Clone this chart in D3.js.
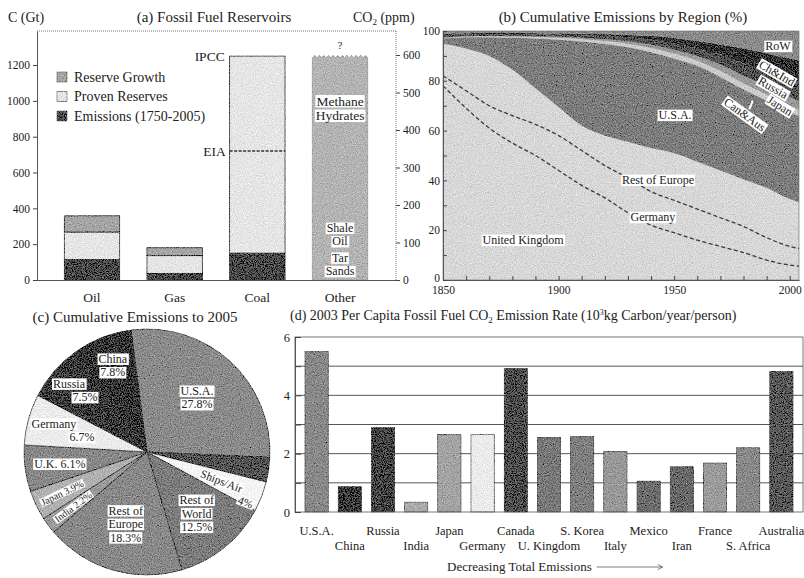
<!DOCTYPE html>
<html><head><meta charset="utf-8">
<script src="https://cdn.jsdelivr.net/npm/d3@7"></script>
<style>
body{margin:0;background:#fff}
svg{display:block}
svg text{font-family:"Liberation Serif","Tinos","Times New Roman","DejaVu Serif",serif !important;fill:#222}
</style></head><body>
<svg id="c" width="804" height="578" font-family="Liberation Serif, DejaVu Serif, serif"></svg>
<script>
// ---------------- DATA ----------------
// (a) Fossil fuel reservoirs, GtC
const fuels = ["Oil", "Gas", "Coal", "Other"];
const emissionsGt = [115, 37, 150, 0];
const provenGt = [153, 99, 1100, 0];
const reserveGrowthGt = [90, 44, 0, 0];
const unconventionalGt = [0, 0, 0, 1240];
const eiaCoalGt = 720;
const gtTicks = [0, 200, 400, 600, 800, 1000, 1200];
const ppmTicks = [0, 100, 200, 300, 400, 500, 600];

// (b) Cumulative emissions by region (% share)
const years = [1850,1860,1870,1880,1890,1900,1910,1920,1930,1940,1950,1960,1970,1980,1990,2000,2005];
const regions = ["United Kingdom","Germany","Rest of Europe","U.S.A.","Can&Aus","Japan","Russia","Ch&Ind","RoW"];
const ukShare      = [78,69,61,55,50,44,38,33,27,22,19,16,13.5,11,8,6,5.5];
const germanyShare = [4,7,9,11,12.5,14,14,13,14,13.5,13,12.5,11.5,10.5,9,7.5,7];
const restEurShare = [13,17,20,18.5,14.5,11.5,10,12,14.5,17.5,19,19,19,19,20,19,18.5];
const usaShare     = [2,4.5,7.5,12.8,20,27,33.8,36.8,38,38.5,38,38.5,37.5,36,35,35,34.5];
const canAusShare  = [0.3,0.3,0.4,0.5,0.6,0.8,1,1.2,1.5,1.8,2,2.2,2.5,2.5,2.5,2.5,2.5];
const japanShare   = [0.1,0.1,0.1,0.2,0.3,0.4,0.5,0.7,0.9,1.2,1.5,1.8,2.5,3,3.5,3.5,3.5];
const russiaShare  = [0.8,0.7,0.7,0.7,0.7,0.8,1,1.3,1.6,2,2.5,3,4,5,5.5,7,8];
const chIndShare   = [0.6,0.5,0.5,0.5,0.5,0.5,0.6,0.7,0.9,1.5,2.2,3,4,6,7.5,8.5,8.5];
const rowShare     = [1.2,0.9,0.8,0.8,0.9,1,1.1,1.3,1.6,2,2.8,4,5.5,7,9,11,12];
const pctTicks = [0,20,40,60,80,100];
const yearTicks = [1850,1900,1950,2000];

// (c) Cumulative emissions to 2005 (%)
const pieNames  = ["U.S.A.","Canada","Ships/Air","Rest of World","Rest of Europe","India","Japan","U.K.","Germany","Russia","China"];
const pieShares = [27.8, 3.2, 4, 12.5, 18.3, 2.2, 3.9, 6.1, 6.7, 7.5, 7.8];

// (d) 2003 per capita emissions (10^3 kg C / year / person)
const countries = ["U.S.A.","China","Russia","India","Japan","Germany","Canada","U. Kingdom","S. Korea","Italy","Mexico","Iran","France","S. Africa","Australia"];
const perCapita = [5.50, 0.87, 2.90, 0.34, 2.66, 2.66, 4.92, 2.56, 2.59, 2.08, 1.06, 1.55, 1.68, 2.20, 4.82];
const perCapitaTicks = [0,1,2,3,4,5,6];

// ---------------- STYLE ----------------
const SERIF = '"Liberation Serif","Tinos","Times New Roman","DejaVu Serif",serif';
const svg = d3.select("#c");
const defs = svg.append("defs");
const f = defs.append("filter").attr("id","grain").attr("filterUnits","userSpaceOnUse")
  .attr("x",-600).attr("y",-600).attr("width",2000).attr("height",1800);
f.append("feTurbulence").attr("type","fractalNoise").attr("baseFrequency",0.9).attr("numOctaves",2).attr("seed",4).attr("result","noise");
f.append("feColorMatrix").attr("in","noise").attr("type","matrix")
  .attr("values","0.33 0.33 0.33 0 0  0.33 0.33 0.33 0 0  0.33 0.33 0.33 0 0  0 0 0 0 1").attr("result","g");
f.append("feComposite").attr("in","SourceGraphic").attr("in2","g").attr("operator","arithmetic")
  .attr("k1",0).attr("k2",1).attr("k3",0.9).attr("k4",-0.45).attr("result","mix");
f.append("feComposite").attr("in","mix").attr("in2","SourceGraphic").attr("operator","in");

function boxText(parent, x, y, lines, o = {}) {
  const size = o.size || 11, lh = o.lh || 13.5, rot = o.rot || 0, dxs = o.dxs || [], dys = o.dys || [];
  const g = parent.append("g").attr("transform", `translate(${x},${y}) rotate(${rot})`);
  const n = lines.length;
  lines.forEach((ln, i) => {
    const t = g.append("text").attr("x", dxs[i] || 0).attr("y", (i - (n - 1) / 2) * lh + (dys[i] || 0))
      .attr("dy", "0.35em").attr("text-anchor", o.anchor || "middle")
      .style("font-size", size + "px").text(ln);
    const bb = t.node().getBBox();
    if (o.box !== false) {
      g.insert("rect", "text").attr("x", bb.x - 1).attr("y", bb.y + 1.5).attr("width", bb.width + 2)
        .attr("height", bb.height - 2.5).attr("fill", "#fff");
    }
  });
  return g;
}
function styleAxis(a, size) {
  a.attr("font-family", null);
  a.select(".domain").attr("stroke", "#555");
  a.selectAll(".tick line").attr("stroke", "#444");
  a.selectAll("text").style("font-family", SERIF).style("font-size", size + "px").attr("fill", "#222");
}

// ---------------- (a) ----------------
const xA = d3.scaleBand().domain(fuels).range([37, 395]).paddingInner(0.33).paddingOuter(0.33);
const yA = d3.scaleLinear().domain([0, 1390]).range([280, 31]);
const yPpm = d3.scaleLinear().domain([0, 664]).range([280, 31]);
const gA = svg.append("g");

const stackA = d3.stack().keys(["e","p","r"])(fuels.map((k, i) => ({k, e: emissionsGt[i], p: provenGt[i], r: reserveGrowthGt[i]})));
const colA = {e: "#4c4c4c", p: "#e6e6e6", r: "#a6a6a6"};
const barsA = gA.append("g").attr("filter", "url(#grain)");
stackA.forEach(layer => {
  barsA.selectAll(null).data(layer.filter(d => d[1] > d[0])).join("rect")
    .attr("x", d => xA(d.data.k)).attr("width", xA.bandwidth())
    .attr("y", d => yA(d[1])).attr("height", d => yA(d[0]) - yA(d[1]))
    .attr("fill", colA[layer.key]).attr("stroke", "#333").attr("stroke-width", 0.8);
});
fuels.forEach((k, i) => {
  if (!unconventionalGt[i]) return;
  const x0 = xA(k), x1 = x0 + xA.bandwidth(), yt = yA(unconventionalGt[i]), yb = yA(0);
  const p = d3.path();
  p.moveTo(x0, yb); p.lineTo(x0, yt);
  const nz = 12, w = (x1 - x0) / nz;
  for (let j = 0; j < nz; j++) { p.lineTo(x0 + w * (j + 0.5), yt - 2.5); p.lineTo(x0 + w * (j + 1), yt); }
  p.lineTo(x1, yb); p.closePath();
  barsA.append("path").attr("d", p.toString()).attr("fill", "#b4b4b4").attr("stroke", "#999").attr("stroke-width", 0.5);
  gA.append("text").attr("x", x0 + xA.bandwidth() / 2).attr("y", yt - 9).attr("text-anchor", "middle").style("font-size", "11px").text("?");
  const cx = x0 + xA.bandwidth() / 2;
  boxText(gA, cx, yA(960), ["Methane", "Hydrates"], {size: 13.5, lh: 14.5});
  boxText(gA, cx, yA(254), ["Shale", "Oil"], {size: 12, lh: 13.5});
  boxText(gA, cx, yA(87), ["Tar", "Sands"], {size: 12, lh: 13.5});
});
const cx0 = xA("Coal");
gA.append("line").attr("x1", cx0).attr("x2", cx0 + xA.bandwidth()).attr("y1", yA(eiaCoalGt)).attr("y2", yA(eiaCoalGt))
  .attr("stroke", "#333").attr("stroke-width", 1.6).attr("stroke-dasharray", "3,1.5");
gA.append("text").attr("x", cx0 - 4).attr("y", yA(eiaCoalGt) + 5).attr("text-anchor", "end").style("font-size", "13.5px").text("EIA");
gA.append("text").attr("x", cx0 - 5).attr("y", yA(provenGt[2] + emissionsGt[2]) + 5).attr("text-anchor", "end").style("font-size", "13.5px").text("IPCC");

gA.append("line").attr("x1", 37).attr("x2", 396).attr("y1", 31).attr("y2", 31).attr("stroke", "#777").attr("stroke-dasharray", "1,1");
gA.append("line").attr("x1", 396).attr("x2", 396).attr("y1", 31).attr("y2", 281).attr("stroke", "#777").attr("stroke-dasharray", "1,1");
gA.append("line").attr("x1", 37).attr("x2", 396).attr("y1", 280.5).attr("y2", 280.5).attr("stroke", "#555");
const axL = gA.append("g").attr("transform", "translate(37,0)")
  .call(d3.axisLeft(yA).tickValues(gtTicks).tickSize(4).tickPadding(3).tickSizeOuter(0).tickFormat(d3.format("d")));
const axR = gA.append("g").attr("transform", "translate(396,0)")
  .call(d3.axisRight(yPpm).tickValues(ppmTicks).tickSize(4).tickPadding(3).tickSizeOuter(0).tickFormat(d3.format("d")));
styleAxis(axL, 11.5); styleAxis(axR, 11.5);
axR.select(".domain").remove();
gA.selectAll(null).data(fuels).join("text").attr("x", d => xA(d) + xA.bandwidth() / 2).attr("y", 302)
  .attr("text-anchor", "middle").style("font-size", "13.5px").text(d => d);
const legA = [["r", "Reserve Growth"], ["p", "Proven Reserves"], ["e", "Emissions (1750-2005)"]];
const legG = gA.append("g");
const legSw = legG.append("g").attr("filter", "url(#grain)");
legA.forEach(([k, label], i) => {
  legSw.append("rect").attr("x", 57).attr("y", 72 + i * 19.5).attr("width", 10).attr("height", 10)
    .attr("fill", colA[k]).attr("stroke", "#555").attr("stroke-width", 0.6);
  legG.append("text").attr("x", 74).attr("y", 81.5 + i * 19.5).style("font-size", "14px").text(label);
});
svg.append("text").attr("x", 8).attr("y", 22).style("font-size", "14px").text("C (Gt)");
svg.append("text").attr("x", 214).attr("y", 22).attr("text-anchor", "middle").style("font-size", "15px").text("(a)  Fossil Fuel Reservoirs");
const co2 = svg.append("text").attr("x", 353).attr("y", 22).style("font-size", "14px");
co2.append("tspan").text("CO");
co2.append("tspan").attr("dy", 3).style("font-size", "9px").text("2");
co2.append("tspan").attr("dy", -3).text(" (ppm)");

// ---------------- (b) ----------------
const xB = d3.scaleLinear().domain([1850, 2004]).range([443, 799]);
const yB = d3.scaleLinear().domain([0, 100]).range([280, 31]);
const gB = svg.append("g");
const shareSeries = [ukShare, germanyShare, restEurShare, usaShare, canAusShare, japanShare, russiaShare, chIndShare, rowShare];
const rowsB = years.map((y, i) => { const o = {year: y}; regions.forEach((r, j) => o[r] = shareSeries[j][i]); return o; });
const stackB = d3.stack().keys(regions)(rowsB);
const colB = {"United Kingdom": "#d8d8d8", "Germany": "#d8d8d8", "Rest of Europe": "#d8d8d8", "U.S.A.": "#7e7e7e",
  "Can&Aus": "#cccccc", "Japan": "#9a9a9a", "Russia": "#555", "Ch&Ind": "#363636", "RoW": "#8c8c8c"};
const areaB = d3.area().x(d => xB(d.data.year)).y0(d => yB(d[0])).y1(d => yB(d[1])).curve(d3.curveMonotoneX);
gB.append("clipPath").attr("id", "clipB").append("rect").attr("x", 443).attr("y", 31).attr("width", 356).attr("height", 249);
const areasB = gB.append("g").attr("clip-path", "url(#clipB)").append("g").attr("filter", "url(#grain)");
areasB.selectAll("path").data(stackB).join("path").attr("d", areaB).attr("fill", d => colB[d.key]);
const lineB = d3.line().x(d => xB(d.data.year)).y(d => yB(d[1])).curve(d3.curveMonotoneX);
gB.append("g").attr("clip-path", "url(#clipB)").selectAll("path").data(stackB.slice(0, 2)).join("path")
  .attr("d", lineB).attr("fill", "none").attr("stroke", "#3a3a3a").attr("stroke-width", 1.3).attr("stroke-dasharray", "4,2.5");
gB.append("rect").attr("x", 443).attr("y", 31).attr("width", 356).attr("height", 249).attr("fill", "none").attr("stroke", "#666").attr("stroke-width", 0.6);
const axBx = gB.append("g").attr("transform", "translate(0,280)")
  .call(d3.axisBottom(xB).tickValues(d3.range(1850, 2005, 10)).tickSize(-4).tickPadding(6).tickSizeOuter(0).tickFormat(d => yearTicks.includes(d) ? d : ""));
const axBy = gB.append("g").attr("transform", "translate(443,0)")
  .call(d3.axisLeft(yB).tickValues(d3.range(0, 101, 10)).tickSize(-4).tickPadding(3).tickSizeOuter(0).tickFormat(d => pctTicks.includes(d) ? d : ""));
styleAxis(axBx, 11.5); styleAxis(axBy, 11.5);
axBy.selectAll(".tick").filter(d => d === 0).select("text").attr("dy", "0.1em");
svg.append("text").attr("x", 623).attr("y", 22).attr("text-anchor", "middle").style("font-size", "15px").text("(b) Cumulative Emissions by Region (%)");
const labB = [
  {t: "RoW", yr: 1994.9, p: 94.0, rot: 0},
  {t: "Ch&Ind", yr: 1994.5, p: 83.1, rot: 30},
  {t: "Russia", yr: 1992.8, p: 77.3, rot: 30},
  {t: "Japan", yr: 1995.8, p: 70.0, rot: 32},
  {t: "Can&Aus", yr: 1980.6, p: 66.5, rot: 36},
  {t: "U.S.A.", yr: 1950.4, p: 66.3, rot: 0},
  {t: "Rest of Europe", yr: 1943, p: 40.2, rot: 0},
  {t: "Germany", yr: 1940.8, p: 25.3, rot: 0},
  {t: "United Kingdom", yr: 1884.6, p: 16.1, rot: 0}
];
gB.append("line").attr("x1", xB(1982.5)).attr("y1", yB(68.5)).attr("x2", xB(1984)).attr("y2", yB(72)).attr("stroke", "#fff").attr("stroke-width", 2);
labB.forEach(l => boxText(gB, xB(l.yr), yB(l.p), [l.t], {size: 12, rot: l.rot}));

// ---------------- (c) ----------------
const pcx = 147, pcy = 452, pr = 123;
const startA = -7.5 * Math.PI / 180;
const pie = d3.pie().sort(null).startAngle(startA).endAngle(startA + 2 * Math.PI);
const arcsC = pie(pieShares);
const arc = d3.arc().innerRadius(0).outerRadius(pr);
const colC = ["#8c8c8c", "#575757", "#f5f5f5", "#7e7e7e", "#8a8a8a", "#9c9c9c", "#b2b2b2", "#8a8a8a", "#ececec", "#404040", "#3a3a3a"];
const gC = svg.append("g").attr("transform", `translate(${pcx},${pcy})`);
gC.append("g").attr("filter", "url(#grain)").selectAll("path").data(arcsC).join("path")
  .attr("d", arc).attr("fill", (d, i) => colC[i]).attr("stroke", "#333").attr("stroke-width", 0.7);
const pct = v => v + "%";
const labC = {
  "U.S.A.": {r: 74, lines: d => ["U.S.A.", pct(d)]},
  "China": {r: 93, lines: d => ["China", pct(d)]},
  "Russia": {r: 94, lines: d => ["Russia", pct(d)], dxs: [-7, 9]},
  "Germany": {r: 82, lines: d => ["Germany", pct(d)], dxs: [-14, 14]},
  "U.K.": {r: 88, lines: d => ["U.K. " + pct(d)]},
  "Japan": {r: 94, lines: d => ["Japan " + pct(d)], rot: "in", size: 10},
  "India": {r: 92, lines: d => ["India " + pct(d)], rot: "in", size: 10},
  "Ships/Air": {r: 80, lines: d => ["Ships/Air"], rot: "out", size: 11.5},
  "Rest of World": {r: 79, lines: d => ["Rest of", "World", pct(d)]},
  "Rest of Europe": {r: 75, lines: d => ["Rest of", "Europe", pct(d)]}
};
arcsC.forEach((a, i) => {
  const cfg = labC[pieNames[i]];
  if (!cfg) return;
  const mid = (a.startAngle + a.endAngle) / 2;
  const x = Math.sin(mid) * cfg.r, y = -Math.cos(mid) * cfg.r;
  const deg = mid * 180 / Math.PI;
  let rot = 0;
  if (cfg.rot === "out") rot = deg - 90;
  if (cfg.rot === "in") rot = deg - 270;
  boxText(gC, x, y, cfg.lines(pieShares[i]), {size: cfg.size || 12, rot, dxs: cfg.dxs, lh: 13.5});
  if (pieNames[i] === "Ships/Air") {
    const g4 = gC.append("g").attr("transform", `rotate(${deg - 90})`);
    boxText(g4, 110, 11, [pct(pieShares[i])], {size: 11.5});
  }
});
svg.append("text").attr("x", 135).attr("y", 322).attr("text-anchor", "middle").style("font-size", "15px").text("(c)  Cumulative Emissions to 2005");

// ---------------- (d) ----------------
const xD = d3.scaleBand().domain(countries).range([295, 803]).paddingInner(0.3).paddingOuter(0.3);
const yD = d3.scaleLinear().domain([0, 6]).range([512, 337]);
const colD = ["#8a8a8a", "#3e3e3e", "#474747", "#ababab", "#a4a4a4", "#ececec", "#505050", "#7a7a7a", "#808080", "#9a9a9a", "#6e6e6e", "#6a6a6a", "#9c9c9c", "#8a8a8a", "#5a5a5a"];
const gD = svg.append("g");
gD.append("g").selectAll("line").data(perCapitaTicks.slice(1, -1)).join("line")
  .attr("x1", 295).attr("x2", 803).attr("y1", d => yD(d)).attr("y2", d => yD(d)).attr("stroke", "#444").attr("stroke-width", 0.9);
gD.append("g").attr("filter", "url(#grain)").selectAll("rect").data(perCapita).join("rect")
  .attr("x", (d, i) => xD(countries[i])).attr("width", xD.bandwidth())
  .attr("y", d => yD(d)).attr("height", d => yD(0) - yD(d))
  .attr("fill", (d, i) => colD[i]).attr("stroke", "#444").attr("stroke-width", 0.6);
gD.append("rect").attr("x", 295).attr("y", 337).attr("width", 508).attr("height", 175).attr("fill", "none").attr("stroke", "#555").attr("stroke-width", 0.8);
const axD = gD.append("g").attr("transform", "translate(295,0)")
  .call(d3.axisLeft(yD).tickValues(perCapitaTicks).tickSize(-6).tickPadding(5).tickSizeOuter(0).tickFormat(d => d % 2 === 0 ? d : ""));
styleAxis(axD, 12.5);
gD.selectAll(".xl").data(countries).join("text").attr("class", "xl")
  .attr("x", d => xD(d) + xD.bandwidth() / 2).attr("y", (d, i) => i % 2 === 0 ? 535 : 550)
  .attr("text-anchor", "middle").style("font-size", "12.5px").text(d => d);
const t4 = svg.append("text").attr("x", 290).attr("y", 320).style("font-size", "14px");
t4.append("tspan").text("(d)  2003 Per Capita Fossil Fuel CO");
t4.append("tspan").attr("dy", 3).style("font-size", "9px").text("2");
t4.append("tspan").attr("dy", -3).text(" Emission Rate (10");
t4.append("tspan").attr("dy", -5).style("font-size", "8px").text("3");
t4.append("tspan").attr("dy", 5).text("kg Carbon/year/person)");
const dec = svg.append("text").attr("x", 447).attr("y", 571).style("font-size", "13px").text("Decreasing Total Emissions");
const dbb = dec.node().getBBox();
const ax0 = dbb.x + dbb.width + 5;
svg.append("line").attr("x1", ax0).attr("x2", ax0 + 65).attr("y1", 567).attr("y2", 567).attr("stroke", "#444").attr("stroke-width", 0.7);
svg.append("path").attr("d", `M${ax0 + 61},564.5 L${ax0 + 66},567 L${ax0 + 61},569.5`).attr("fill", "none").attr("stroke", "#444").attr("stroke-width", 0.7);
</script>
</body></html>
